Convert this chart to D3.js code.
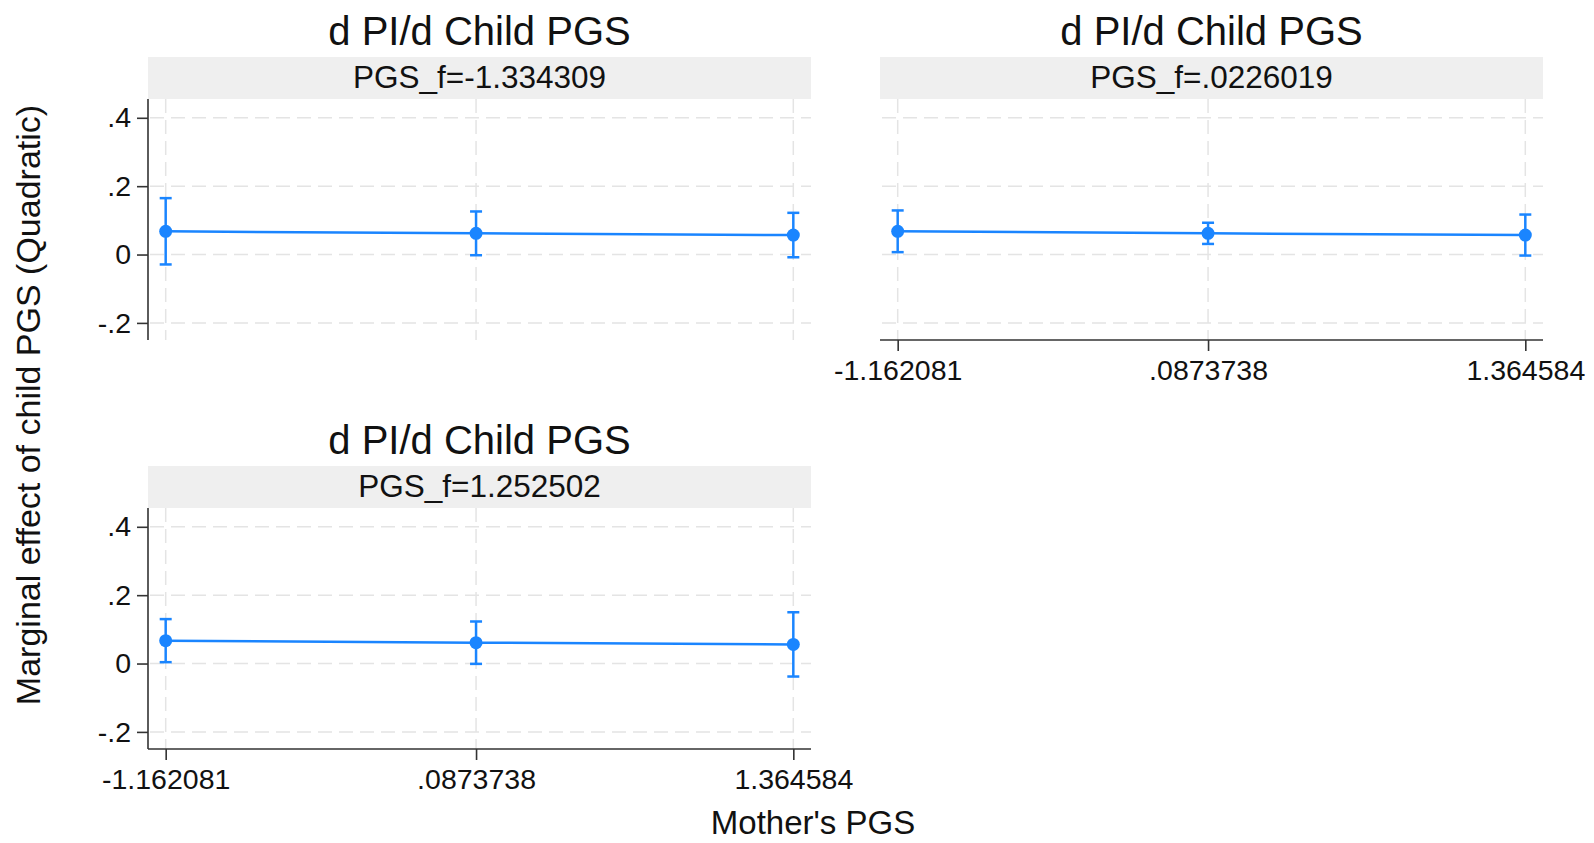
<!DOCTYPE html>
<html>
<head>
<meta charset="utf-8">
<script src="https://cdn.jsdelivr.net/npm/d3@7"></script>
<style>
  body { margin: 0; background: #fff; }
  text { font-family: "Liberation Sans", Arial, Helvetica, sans-serif; fill: #111; }
</style>
</head>
<body>
<div id="chart"></div>
<script>
// mother's PGS values (x) and their tick labels
const mothersPGS = [-1.162081, 0.0873738, 1.364584];
const mothersPGSLabels = ["-1.162081", ".0873738", "1.364584"];

// facet labels (father's PGS)
const facetLabels = ["PGS_f=-1.334309", "PGS_f=.0226019", "PGS_f=1.252502"];

const yTicks = [-0.2, 0, 0.2, 0.4];
const yTickLabels = ["-.2", "0", ".2", ".4"];

// marginal effects and 95% CIs, one set per facet
const effectF1 = [0.068, 0.062, 0.057];
const lowerF1 = [-0.029, -0.002, -0.008];
const upperF1 = [0.165, 0.126, 0.122];

const effectF2 = [0.068, 0.062, 0.057];
const lowerF2 = [0.007, 0.031, -0.003];
const upperF2 = [0.129, 0.093, 0.117];

const effectF3 = [0.067, 0.061, 0.056];
const lowerF3 = [0.004, -0.001, -0.038];
const upperF3 = [0.130, 0.123, 0.150];

const width = 1594, height = 843;
const blue = "#1a85ff";
const gridColor = "#e4e4e4";

const svg = d3.select("#chart").append("svg")
    .attr("width", width)
    .attr("height", height);

// panel boxes (plot region only); strip and title sit above
const panels = [
    { label: facetLabels[0], est: effectF1, lo: lowerF1, hi: upperF1, left: 148, top: 99, yAxis: true, xAxis: false },
    { label: facetLabels[1], est: effectF2, lo: lowerF2, hi: upperF2, left: 880, top: 99, yAxis: false, xAxis: true },
    { label: facetLabels[2], est: effectF3, lo: lowerF3, hi: upperF3, left: 148, top: 508, yAxis: true, xAxis: true }
];
const plotW = 663, plotH = 241, stripH = 42;

const xPad = 0.0712;
const xDomain = [d3.min(mothersPGS) - xPad, d3.max(mothersPGS) + xPad];
const yDomain = [-0.25, 0.455];

panels.forEach(p => {
    const g = svg.append("g").attr("transform", `translate(${p.left},${p.top})`);
    const x = d3.scaleLinear().domain(xDomain).range([0, plotW]);
    const y = d3.scaleLinear().domain(yDomain).range([plotH, 0]);

    // title + strip
    g.append("text")
        .attr("x", plotW / 2)
        .attr("y", -stripH - 12)
        .attr("text-anchor", "middle")
        .style("font-size", "40px")
        .text("d PI/d Child PGS");

    g.append("rect")
        .attr("x", 0).attr("y", -stripH)
        .attr("width", plotW).attr("height", stripH)
        .attr("fill", "#efefef");

    g.append("text")
        .attr("x", plotW / 2)
        .attr("y", -stripH + 31)
        .attr("text-anchor", "middle")
        .style("font-size", "31.5px")
        .text(p.label);

    // dashed grid
    g.append("g").selectAll("line")
        .data(yTicks)
        .join("line")
        .attr("x1", 2).attr("x2", plotW)
        .attr("y1", d => y(d)).attr("y2", d => y(d))
        .attr("stroke", gridColor)
        .attr("stroke-width", 1.5)
        .attr("stroke-dasharray", "14,7");

    g.append("g").selectAll("line")
        .data(mothersPGS)
        .join("line")
        .attr("x1", d => x(d)).attr("x2", d => x(d))
        .attr("y1", 0).attr("y2", plotH)
        .attr("stroke", gridColor)
        .attr("stroke-width", 1.5)
        .attr("stroke-dasharray", "14,7");

    // axes
    if (p.yAxis) {
        const ya = g.append("g")
            .call(d3.axisLeft(y).tickValues(yTicks).tickSize(11).tickPadding(6)
                .tickFormat((d, i) => yTickLabels[i]));
        ya.select(".domain").attr("d", `M0,0V${plotH}`).attr("stroke", "#333").attr("stroke-width", 1.6);
        ya.selectAll(".tick line").attr("stroke", "#333").attr("stroke-width", 1.6);
        ya.selectAll(".tick text").style("font-size", "28.5px").attr("fill", "#111")
            .style("font-family", "'Liberation Sans', Arial, sans-serif");
    }
    if (p.xAxis) {
        const xa = g.append("g")
            .attr("transform", `translate(0,${plotH})`)
            .call(d3.axisBottom(x).tickValues(mothersPGS).tickSize(11).tickPadding(9)
                .tickFormat((d, i) => mothersPGSLabels[i]));
        xa.select(".domain").attr("d", `M0,0H${plotW}`).attr("stroke", "#333").attr("stroke-width", 1.6);
        xa.selectAll(".tick line").attr("stroke", "#333").attr("stroke-width", 1.6);
        xa.selectAll(".tick text").style("font-size", "28.5px").attr("fill", "#111")
            .style("font-family", "'Liberation Sans', Arial, sans-serif");
    }

    const pts = mothersPGS.map((m, i) => ({ m, est: p.est[i], lo: p.lo[i], hi: p.hi[i] }));

    // CI bars with caps
    const bars = g.append("g").attr("stroke", blue).attr("stroke-width", 2.5);
    bars.selectAll(".ci").data(pts).join("line")
        .attr("x1", d => x(d.m)).attr("x2", d => x(d.m))
        .attr("y1", d => y(d.lo)).attr("y2", d => y(d.hi));
    bars.selectAll(".capHi").data(pts).join("line").attr("class", "capHi")
        .attr("x1", d => x(d.m) - 6).attr("x2", d => x(d.m) + 6)
        .attr("y1", d => y(d.hi)).attr("y2", d => y(d.hi));
    bars.selectAll(".capLo").data(pts).join("line").attr("class", "capLo")
        .attr("x1", d => x(d.m) - 6).attr("x2", d => x(d.m) + 6)
        .attr("y1", d => y(d.lo)).attr("y2", d => y(d.lo));

    // connecting line + markers
    g.append("path")
        .datum(pts)
        .attr("fill", "none")
        .attr("stroke", blue)
        .attr("stroke-width", 2.5)
        .attr("d", d3.line().x(d => x(d.m)).y(d => y(d.est)));

    g.append("g").selectAll("circle")
        .data(pts)
        .join("circle")
        .attr("cx", d => x(d.m))
        .attr("cy", d => y(d.est))
        .attr("r", 6.5)
        .attr("fill", blue);
});

// shared axis titles
svg.append("text")
    .attr("transform", "translate(40,405) rotate(-90)")
    .attr("text-anchor", "middle")
    .style("font-size", "34px")
    .text("Marginal effect of child PGS (Quadratic)");

svg.append("text")
    .attr("x", 813)
    .attr("y", 834)
    .attr("text-anchor", "middle")
    .style("font-size", "33px")
    .text("Mother's PGS");
</script>
</body>
</html>
